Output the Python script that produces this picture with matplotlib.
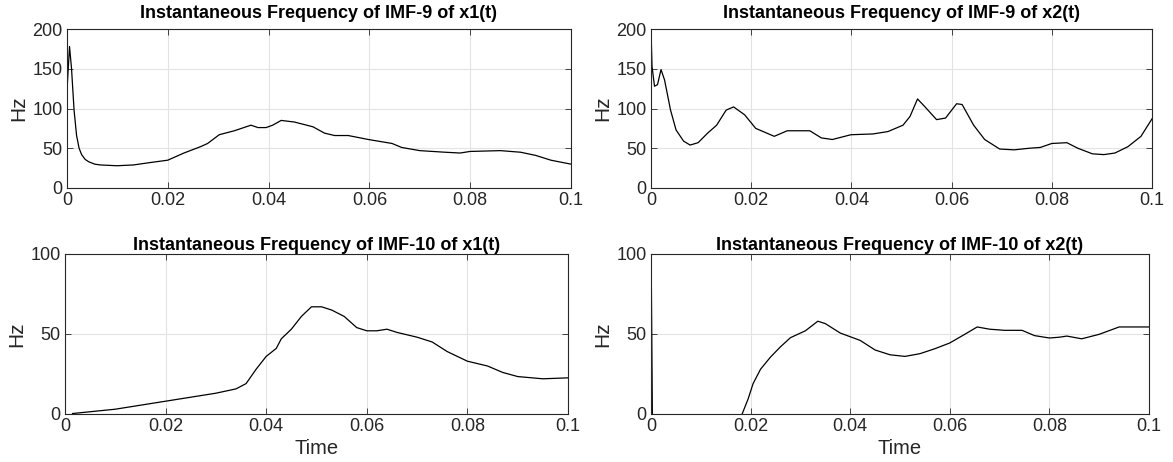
import numpy as np
import matplotlib.pyplot as plt

plt.rcParams['font.family'] = ['Liberation Sans', 'DejaVu Sans']

# IMF-9 of x1(t)
t_a = [0.0, 0.0005, 0.0009, 0.0014, 0.0019, 0.0024, 0.0029, 0.0036, 0.0043, 0.0055,
       0.0066, 0.0099, 0.0132, 0.0165,
       0.020, 0.0232, 0.0265, 0.0279, 0.0302, 0.0332, 0.0365, 0.0379, 0.0395, 0.0408,
       0.0425, 0.0451, 0.0488, 0.0511, 0.0531, 0.0558, 0.0598, 0.0645, 0.0664, 0.070,
       0.075, 0.078, 0.080, 0.086, 0.090, 0.093, 0.096, 0.100]
f_a = [123, 178, 150, 98, 66, 50, 42, 36, 33, 30,
       29, 28, 29, 32,
       35, 44, 52, 56, 67, 72, 79, 76, 76, 79,
       85, 83, 77, 69, 66, 66, 61, 56, 51, 47,
       45, 44, 46, 47, 45, 41, 35, 30]

# IMF-9 of x2(t)
t_b = [0.0, 0.0002, 0.0007, 0.0013, 0.002, 0.0027, 0.0039, 0.005, 0.0065, 0.0078,
       0.0094, 0.0113, 0.0131, 0.015, 0.0165, 0.0187, 0.0209, 0.0246, 0.0272, 0.0317,
       0.034, 0.0362, 0.0399, 0.0443, 0.0473, 0.0503, 0.0517, 0.0532, 0.0547, 0.057,
       0.0588, 0.061, 0.0621, 0.0644, 0.0666, 0.0696, 0.0725, 0.0755, 0.0777, 0.080,
       0.083, 0.0852, 0.0881, 0.0904, 0.0926, 0.0952, 0.0978, 0.100]
f_b = [200, 153, 128, 130, 149, 136, 98, 73, 59, 54,
       57, 69, 79, 98, 102, 92, 75, 65, 72, 72,
       63, 61, 67, 68, 71, 79, 90, 112, 102, 86,
       88, 106, 105, 79, 61, 49, 48, 50, 51, 56,
       57, 50, 43, 42, 44, 52, 65, 87]

# IMF-10 of x1(t)
t_c = [0.0015, 0.01, 0.02, 0.03, 0.034, 0.036, 0.038, 0.040, 0.042, 0.043,
       0.045, 0.047, 0.049, 0.051, 0.053, 0.0555, 0.058, 0.060, 0.062, 0.064,
       0.066, 0.070, 0.073, 0.076, 0.080, 0.084, 0.087, 0.090, 0.095, 0.100]
f_c = [0.3, 3, 8, 13, 15.7, 19, 28, 36, 41, 47,
       53, 61, 67, 67, 65, 61, 54, 52, 52, 53,
       51, 48, 45, 39, 33, 30, 26, 23.4, 22, 22.6]

# IMF-10 of x2(t)
t_d = [0.0, 0.0003, 0.008, 0.015, 0.0183, 0.0195, 0.0205, 0.022, 0.024, 0.026,
       0.028, 0.031, 0.0335, 0.035, 0.038, 0.042, 0.045, 0.048, 0.051, 0.054,
       0.057, 0.060, 0.063, 0.0655, 0.068, 0.071, 0.0745, 0.077, 0.080, 0.082,
       0.0835, 0.0865, 0.090, 0.094, 0.100]
f_d = [110, -10, -40, -15, 0, 9.4, 19, 28, 35.6, 42,
       47.7, 52, 58, 56.5, 50.6, 46, 40, 37, 36, 37.7,
       40.8, 44.4, 49.8, 54.4, 53, 52.3, 52.3, 49, 47.5, 48,
       48.7, 47, 49.8, 54.4, 54.4]

titles = ['Instantaneous Frequency of IMF-9 of x1(t)',
          'Instantaneous Frequency of IMF-9 of x2(t)',
          'Instantaneous Frequency of IMF-10 of x1(t)',
          'Instantaneous Frequency of IMF-10 of x2(t)']
x_ticks = [0, 0.02, 0.04, 0.06, 0.08, 0.1]
x_ticklabels = ['0', '0.02', '0.04', '0.06', '0.08', '0.1']

fig = plt.figure(figsize=(11.73, 4.62), dpi=100)
W, H = 1173, 462
boxes = [(67, 571, 29, 188), (651, 1152, 29, 188),
         (65, 568, 254, 414), (651, 1149, 254, 414)]
series = [(t_a, f_a), (t_b, f_b), (t_c, f_c), (t_d, f_d)]
ylims = [(0, 200), (0, 200), (0, 100), (0, 100)]
yticks = [[0, 50, 100, 150, 200], [0, 50, 100, 150, 200], [0, 50, 100], [0, 50, 100]]

dark = '#262626'
for i in range(4):
    l, r, t, b = boxes[i]
    ax = fig.add_axes([l / W, 1 - b / H, (r - l) / W, (b - t) / H])
    x, y = series[i]
    ax.plot(x, y, color='black', lw=0.9)
    ax.set_xlim(0, 0.1)
    ax.set_ylim(*ylims[i])
    ax.set_xticks(x_ticks)
    ax.set_xticklabels(x_ticklabels)
    ax.set_yticks(yticks[i])
    ax.grid(True, color='#e3e3e3', lw=0.8)
    ax.set_axisbelow(True)
    ax.tick_params(direction='in', length=4, width=0.6, top=True, right=True,
                   labelsize=13, colors=dark, pad=3)
    for s in ax.spines.values():
        s.set_color(dark)
        s.set_linewidth(0.8)
    ax.set_title(titles[i], fontsize=13, fontweight='bold', pad=8 if i < 2 else 3)
    ax.set_ylabel('Hz', fontsize=15, color=dark, labelpad=3)
    if i >= 2:
        ax.set_xlabel('Time', fontsize=14.5, color=dark, labelpad=3)

fig.savefig('out.png', dpi=100)
